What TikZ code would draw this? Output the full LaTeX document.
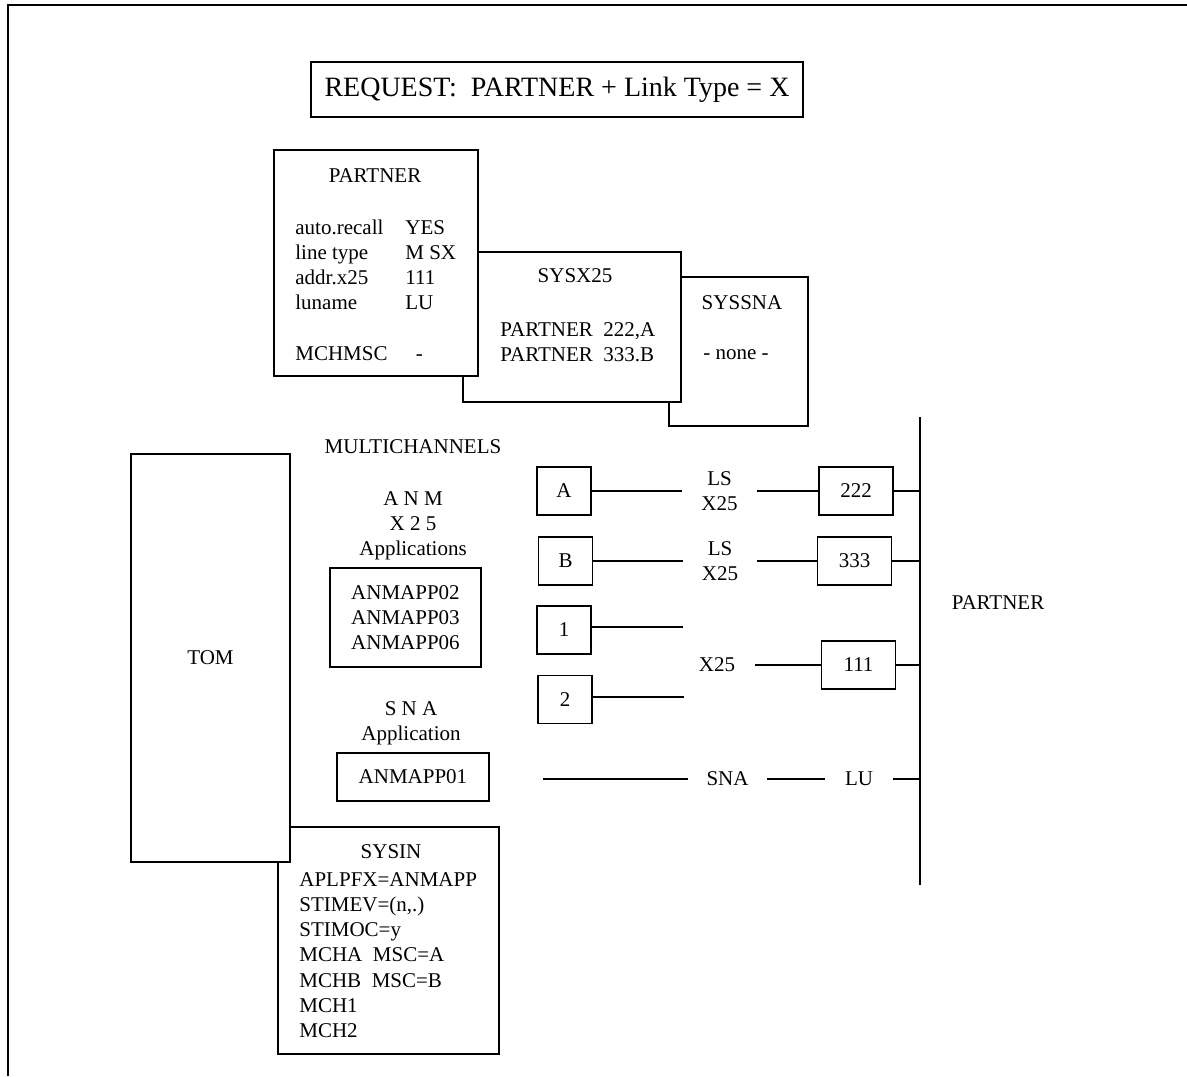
\documentclass[tikz,border=0pt]{standalone}
\usepackage{fontspec}
\setmainfont{Liberation Serif}
\usetikzlibrary{positioning}

\begin{document}
\begin{tikzpicture}[x=0.5pt,y=-0.5pt,font=\fontsize{10.5}{12.6}\selectfont]
\tikzset{b/.style={draw,line width=0.8pt,fill=white,inner sep=0pt},
  t/.style={inner sep=0pt,align=center},
  w/.style={line width=0.9pt},
  sq/.style={b,minimum width=27pt,minimum height=24pt},
  nb/.style={b,minimum width=37pt,minimum height=24pt}}
\useasboundingbox (0,0) rectangle (1187,1076);
\draw[line width=1.2pt] (8,1076) -- (8,5) -- (1187,5);

\node[b,minimum width=246pt,minimum height=27.5pt,font=\fontsize{14}{16}\selectfont] (req) at (557,89.5) {REQUEST:\ \ PARTNER + Link Type = X};

\node[b,minimum width=69.5pt,minimum height=74.5pt] (syssna) at (738.5,351.5) {};
\node[b,minimum width=109pt,minimum height=75pt] (sysx) at (572,327) {};
\node[b,minimum width=102pt,minimum height=113pt] (partner) at (376,263) {};
\node[t] (ptitle) at (375,176) {PARTNER};
\node[t,anchor=north west] (pattr) at (295,216) {\begin{tabular}{@{}p{55pt}@{}l@{}}
  auto.recall & YES\\ line type & M SX\\ addr.x25 & 111\\ luname & LU\\ & \\ MCHMSC & \ \ -\end{tabular}};
\node[t] (xtitle) at (575,276) {SYSX25};
\node[t,anchor=north west,align=left] (xrows) at (500,322) {PARTNER\ \ 222,A\\PARTNER\ \ 333.B};
\node[t] (stitle) at (742,303) {SYSSNA};
\node[t] (snone) at (736,355) {- none -};

\node[t] (mch) at (413,447) {MULTICHANNELS};
\node[t] (anmx) at (413,526) {A N M\\X 2 5\\Applications};
\node[b,minimum width=75.5pt,minimum height=49.5pt,align=center] (apps) at (405.5,617.5) {ANMAPP02\\ANMAPP03\\ANMAPP06};
\node[t] (snaapp) at (411,723) {S N A\\Application};
\node[b,minimum width=76pt,minimum height=24pt] (app01) at (413,777) {ANMAPP01};

\node[b,minimum width=110.5pt,minimum height=113.5pt] (sysin) at (388.5,940.5) {};
\node[t] (sysinT) at (391,852) {SYSIN};
\node[t,anchor=north west,align=left] (sysinL) at (299,872) {APLPFX=ANMAPP\\STIMEV=(n,.)\\STIMOC=y\\MCHA\ \ MSC=A\\MCHB\ \ MSC=B\\MCH1\\MCH2};
\node[b,minimum width=79.5pt,minimum height=204pt] (tom) at (210.5,658) {TOM};

\node[sq] (A) at (564,491) {A};
\node[sq] (B) at (565.5,561) {B};
\node[sq] (n1) at (564,630) {1};
\node[sq] (n2) at (565,699.5) {2};
\node[nb] (n222) at (856,491) {222};
\node[nb] (n333) at (854.5,561) {333};
\node[nb] (n111) at (858.5,665) {111};
\node[t,minimum width=37.5pt] (lsA) at (719.5,491) {LS\\X25};
\node[t,minimum width=37pt] (lsB) at (720,561) {LS\\X25};
\node[t,minimum width=38pt] (x25) at (717,665) {X25};
\node[t,minimum width=39.5pt] (sna) at (727.5,779) {SNA};
\node[t,minimum width=34pt] (lu) at (859,779) {LU};
\node[t] (plbl) at (998,603) {PARTNER};

\coordinate (bt) at (920,417);
\coordinate (bb) at (920,885);
\coordinate (e1) at (683,627);
\coordinate (e2) at (684,697);
\coordinate (s0) at (543,779);
\draw[line width=1.1pt] (bt) -- (bb);
\draw[w] (A) -- (lsA) -- (n222) -- (n222 -| bt);
\draw[w] (B) -- (lsB) -- (n333) -- (n333 -| bt);
\draw[w] (n1.east |- e1) -- (e1);
\draw[w] (n2.east |- e2) -- (e2);
\draw[w] (x25) -- (n111) -- (n111 -| bt);
\draw[w] (s0) -- (sna) -- (lu) -- (lu -| bt);
\end{tikzpicture}
\end{document}
